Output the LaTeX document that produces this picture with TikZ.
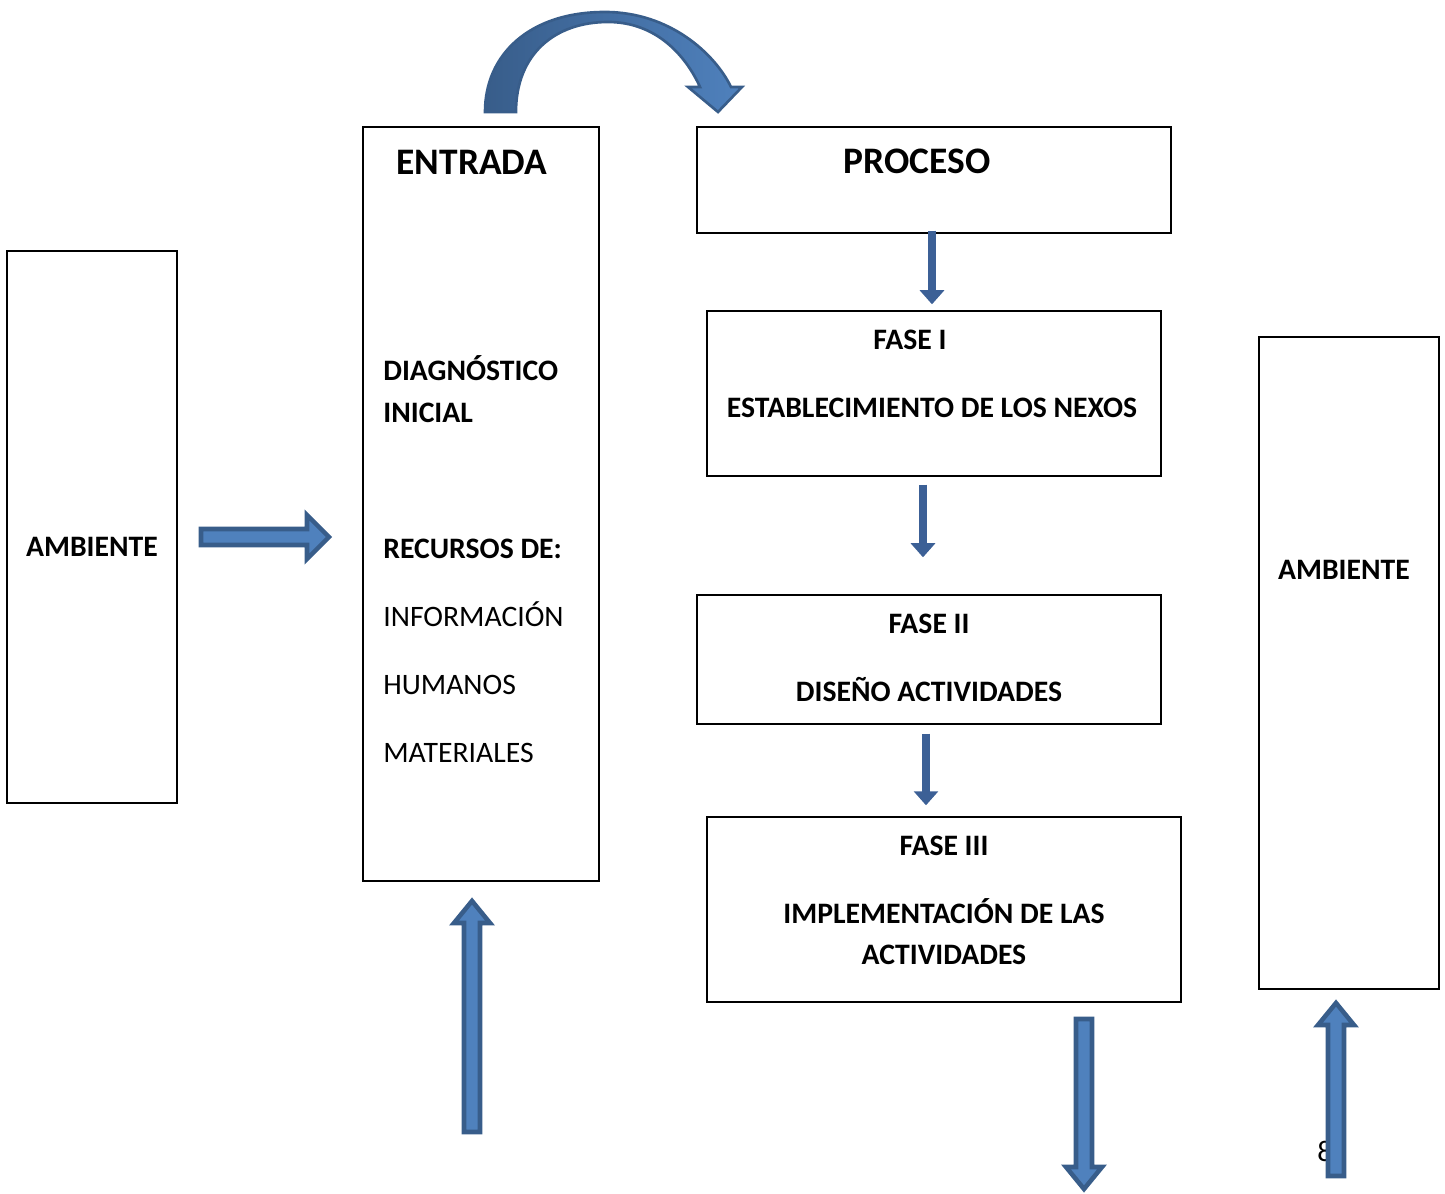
\documentclass[tikz,border=0pt]{standalone}
\usepackage{fontspec}
\setmainfont{Carlito}
\usetikzlibrary{arrows.meta,calc}

\definecolor{arrowfill}{HTML}{4F81BD}
\definecolor{arrowline}{HTML}{385D8A}
\definecolor{arrowdark}{HTML}{3C6096}

% block arrow: start coordinate, angle, length, half width of the head
\newcommand{\blockarrow}[4]{%
  \draw[blockarrow,shift={(#1)},rotate=#2] (0,-8) -- (#3-22,-8) -- (#3-22,-#4) -- (#3,0)
    -- (#3-22,#4) -- (#3-22,8) -- (0,8) -- cycle;}

\begin{document}
\begin{tikzpicture}[x=0.02cm,y=0.02cm]
    \tikzstyle{box}=[rectangle,draw,line width=0.8pt,inner sep=0pt]
    \tikzstyle{boldtext}=[font=\fontsize{16.9}{20}\selectfont\bfseries,inner sep=0pt,anchor=base]
    \tikzstyle{plaintext}=[font=\fontsize{16.9}{20}\selectfont,inner sep=0pt,anchor=base west]
    \tikzstyle{bigtext}=[font=\fontsize{21.3}{25}\selectfont\bfseries,inner sep=0pt,anchor=base]
    \tikzstyle{thinarrow}=[draw=arrowdark,line width=4.5pt,-{Triangle[width=13.6pt,length=8pt]}]
    \tikzstyle{blockarrow}=[fill=arrowfill,draw=arrowline,line width=2.6pt]
    \useasboundingbox (0,0) rectangle (1445,1194);

    % boxes
    \node[box,minimum width=3.4cm,minimum height=11.04cm] (ambL) at (92,667) {};
    \node[box,minimum width=4.72cm,minimum height=15.08cm] (entrada) at (481,690) {};
    \node[box,minimum width=9.48cm,minimum height=2.12cm] (proceso) at (934,1014) {};
    \node[box,minimum width=9.08cm,minimum height=3.3cm] (fase1) at (934,800.5) {};
    \node[box,minimum width=9.28cm,minimum height=2.58cm] (fase2) at (929,534.5) {};
    \node[box,minimum width=9.48cm,minimum height=3.7cm] (fase3) at (944,284.5) {};
    \node[box,minimum width=3.6cm,minimum height=13.04cm] (ambR) at (1349,531) {};

    % texts
    \node[boldtext] (ambLtext) at (92,637) {AMBIENTE};
    \node[bigtext] (entradatext) at (472,1019) {ENTRADA};
    \node[boldtext,anchor=base west] (diag) at (383,813) {DIAGNÓSTICO};
    \node[boldtext,anchor=base west] (inicial) at (383,771) {INICIAL};
    \node[boldtext,anchor=base west] (recursos) at (383,635) {RECURSOS DE:};
    \node[plaintext] (informacion) at (383,567) {INFORMACIÓN};
    \node[plaintext] (humanos) at (383,499) {HUMANOS};
    \node[plaintext] (materiales) at (383,431) {MATERIALES};
    \node[bigtext] (procesotext) at (917,1020) {PROCESO};
    \node[boldtext] (fase1title) at (910,844) {FASE I};
    \node[boldtext] (fase1text) at (932,776) {ESTABLECIMIENTO DE LOS NEXOS};
    \node[boldtext] (fase2title) at (929,560) {FASE II};
    \node[boldtext] (fase2text) at (929,492) {DISEÑO ACTIVIDADES};
    \node[boldtext] (fase3title) at (944,338) {FASE III};
    \node[boldtext] (fase3text) at (944,270) {IMPLEMENTACIÓN DE LAS};
    \node[boldtext] (fase3more) at (944,229) {ACTIVIDADES};
    \node[boldtext] (ambRtext) at (1344,614) {AMBIENTE};
    \node[plaintext,anchor=base] (pagenum) at (1325,32) {8};

    % thin arrows of the process
    \draw[thinarrow] ($(proceso.south)+(-2,3)$) -- ($(fase1.north)+(-2,6)$);
    \draw[thinarrow] ($(fase1.south)+(-11,-8)$) -- ($(fase2.north)+(-6,37)$);
    \draw[thinarrow] ($(fase2.south)+(-3,-9)$) -- ($(fase3.north)+(-18,11)$);

    % block arrows
    \coordinate (inflow) at (201,657);
    \coordinate (feedin) at (472,62);
    \coordinate (outflow) at (1084,175);
    \coordinate (feedout) at (1336,18);
    \blockarrow{inflow}{0}{128}{22}
    \blockarrow{feedin}{90}{231}{18}
    \blockarrow{outflow}{-90}{170}{18}
    \blockarrow{feedout}{90}{173}{18}

    % curved arrow from ENTRADA to PROCESO
    \draw[draw=arrowline,line width=1.5pt,left color=arrowline,right color=arrowfill]
      (485,1082) .. controls (485,1140) and (530,1182) .. (605,1182)
      .. controls (670,1182) and (715,1140) .. (731,1107) -- (742,1107) -- (718,1082)
      -- (688,1107) -- (700,1107) .. controls (685,1140) and (655,1172) .. (608,1172)
      .. controls (555,1172) and (516,1140) .. (516,1082) -- cycle;
\end{tikzpicture}
\end{document}
